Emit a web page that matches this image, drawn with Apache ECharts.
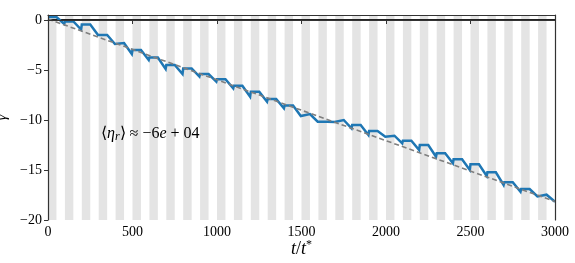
<!DOCTYPE html>
<html>
<head>
<meta charset="utf-8">
<script src="https://cdn.jsdelivr.net/npm/echarts@6/dist/echarts.min.js"></script>
<style>html,body{margin:0;padding:0;background:#fff}#c{width:575px;height:263px}</style>
</head>
<body>
<div id="c"></div>
<script>
// Shaded intervals: start and end of each grey band (t/t*)
var bandStarts = [0,100,200,300,400,500,600,700,800,900,1000,1100,1200,1300,1400,1500,1600,1700,1800,1900,2000,2100,2200,2300,2400,2500,2600,2700,2800,2900];
var bandEnds   = [50,150,250,350,450,550,650,750,850,950,1050,1150,1250,1350,1450,1550,1650,1750,1850,1950,2050,2150,2250,2350,2450,2550,2650,2750,2850,2950];
// gamma at the plateau of each cycle (during the grey band) and at the bottom just before the next band
var plateau = [0.3,-0.15,-0.45,-1.5,-2.3,-3.0,-3.75,-4.5,-4.85,-5.4,-5.93,-6.57,-7.17,-7.9,-8.55,-9.4,-10.17,-10.0,-10.5,-11.1,-11.57,-12.07,-12.5,-13.33,-13.93,-14.43,-15.23,-16.23,-16.9,-17.47];
var bottom  = [-0.4,-0.95,-1.5,-2.4,-3.4,-4.0,-4.9,-5.4,-5.65,-6.17,-6.83,-7.67,-8.17,-8.83,-9.6,-10.17,-10.2,-10.83,-11.5,-11.67,-12.33,-13.0,-13.67,-14.33,-15.0,-15.6,-16.5,-17.17,-17.65,-18.17];
var bottomTimes = [96,196,296,396,496,596,696,796,896,996,1096,1196,1296,1396,1496,1596,1696,1796,1896,1996,2096,2196,2296,2396,2496,2596,2696,2796,2896,3000];
// linear fit (dashed)
var fitT = [0, 3000];
var fitG = [0.1, -18.15];
var yTicks = [-20,-15,-10,-5,0];
var xTicks = [0,500,1000,1500,2000,2500,3000];

var gammaData = [];
for (var k = 0; k < plateau.length; k++) {
  gammaData.push([bandStarts[k], plateau[k]]);
  gammaData.push([bandEnds[k], plateau[k]]);
  gammaData.push([bottomTimes[k], bottom[k]]);
}
var bands = bandStarts.map(function(s, i){ return [{xAxis: s}, {xAxis: bandEnds[i]}]; });

var FONT = 'Liberation Serif';
var minus = function(v){ return String(v).replace('-', '\u2212'); };
var chart = echarts.init(document.getElementById('c'), null, {renderer:'canvas'});
chart.setOption({
  animation: false,
  backgroundColor: '#fff',
  title: {
    left: 96, top: 120,
    text: '{a|\u27e8}{i|\u03b7}{s|r}{a|\u27e9 \u2248 \u22126}{i|e}{a| + 04}',
    textStyle: {
      fontWeight: 'normal',
      rich: {
        a: {fontFamily: FONT, fontSize: 16, fontWeight: 'normal', color: '#000'},
        i: {fontFamily: FONT, fontSize: 16, fontWeight: 'normal', fontStyle: 'italic', color: '#000'},
        s: {fontFamily: FONT, fontSize: 12, fontWeight: 'normal', fontStyle: 'italic', color: '#000', padding: [6,0,0,0]}
      }
    }
  },
  grid: {left: 48, right: 20, top: 15, bottom: 43, containLabel: false, outerBoundsMode: 'none'},
  xAxis: [{
    type: 'value', min: 0, max: 3000, interval: 500, z: 10,
    name: '{i|t}{a|/}{i|t}{s|*}', nameLocation: 'middle', nameGap: 19, nameMoveOverlap: false,
    nameTextStyle: {rich: {
      i: {fontFamily: FONT, fontSize: 18, fontStyle: 'italic', color: '#000'},
      a: {fontFamily: FONT, fontSize: 18, color: '#000'},
      s: {fontFamily: FONT, fontSize: 12, color: '#000', padding: [0,0,8,0]}
    }},
    axisLine: {show: true, lineStyle: {color: '#333', width: 1.2}},
    axisTick: {show: true, inside: false, length: 4, lineStyle: {color: '#333', width: 1}, customValues: xTicks},
    axisLabel: {fontFamily: FONT, fontSize: 14, color: '#000', margin: 5, customValues: xTicks, formatter: function(v){ return String(v); }},
    splitLine: {show: false}
  }, {
    type: 'value', min: 0, max: 3000, position: 'top', z: 10,
    axisLine: {show: true, onZero: false, lineStyle: {color: '#333', width: 1.2}},
    axisTick: {show: false}, axisLabel: {show: false}, splitLine: {show: false}
  }],
  yAxis: [{
    type: 'value', min: -20, max: 0.5, z: 10,
    name: '\u03b3', nameLocation: 'middle', nameGap: 38, nameRotate: 90, nameMoveOverlap: false,
    nameTextStyle: {fontFamily: FONT, fontSize: 15, fontStyle: 'italic', color: '#000'},
    axisLine: {show: true, onZero: false, lineStyle: {color: '#333', width: 1.2}},
    axisTick: {show: true, inside: false, length: 4, lineStyle: {color: '#333', width: 1}, customValues: yTicks},
    axisLabel: {fontFamily: FONT, fontSize: 14, color: '#000', margin: 6, customValues: yTicks, formatter: minus},
    splitLine: {show: false}
  }, {
    type: 'value', min: -20, max: 0.5, position: 'right', z: 10,
    axisLine: {show: true, onZero: false, lineStyle: {color: '#333', width: 1.2}},
    axisTick: {show: false}, axisLabel: {show: false}, splitLine: {show: false}
  }],
  series: [{
    type: 'line', z: 1, data: [[0, 0]], symbol: 'none', lineStyle: {opacity: 0}, silent: true,
    markArea: {silent: true, itemStyle: {color: '#e4e4e4'}, data: bands}
  }, {
    type: 'line', z: 3, data: [[0, 0], [3000, 0]], symbol: 'none', silent: true,
    lineStyle: {color: '#222', width: 1.8}
  }, {
    type: 'line', z: 4, data: gammaData, symbol: 'none', silent: true,
    lineStyle: {color: '#1f77b4', width: 2.5, join: 'miter'}
  }, {
    type: 'line', z: 5, data: fitT.map(function(t, i){ return [t, fitG[i]]; }), symbol: 'none', silent: true,
    lineStyle: {color: '#7f7f7f', width: 1.6, type: [5, 3]}
  }]
});
</script>
</body>
</html>
